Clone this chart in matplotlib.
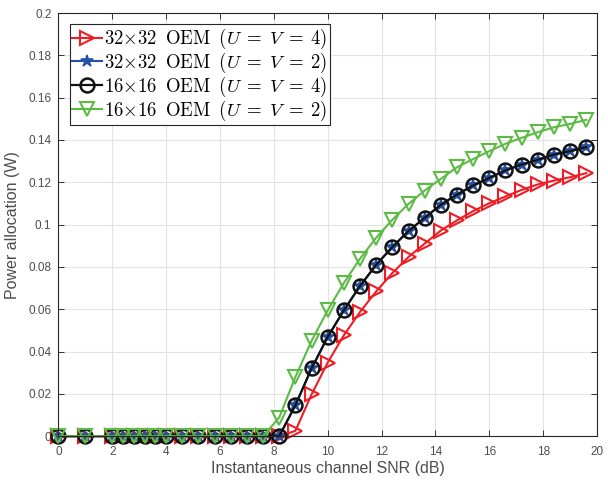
import matplotlib.pyplot as plt

plt.rcParams['mathtext.fontset'] = 'cm'
plt.rcParams['font.family'] = ['Liberation Sans', 'DejaVu Sans']

# SNR grid (dB)
snr = [0, 1, 2, 2.4, 2.8, 3.2, 3.6, 4.0, 4.6, 5.2, 5.8, 6.4, 7.0, 7.6, 8.2,
       8.8, 9.4, 10.0, 10.6, 11.2, 11.8, 12.4, 13.0, 13.6, 14.2, 14.8, 15.4,
       16.0, 16.6, 17.2, 17.8, 18.4, 19.0, 19.6]

zeros = [0.0] * 15

p_32_u4 = zeros + [0.0025, 0.0197, 0.0348, 0.0477, 0.0587, 0.0684, 0.0771, 0.0847,
                   0.0910, 0.0972, 0.1020, 0.1064, 0.1101, 0.1133, 0.1164, 0.1190,
                   0.1208, 0.1224, 0.1243]
p_32_u2 = zeros + [0.0146, 0.0320, 0.0469, 0.0595, 0.0710, 0.0810, 0.0894, 0.0970,
                   0.1032, 0.1094, 0.1142, 0.1185, 0.1221, 0.1256, 0.1284, 0.1306,
                   0.1331, 0.1347, 0.1366]
p_16_u4 = p_32_u2
p_16_u2 = zeros[:-1] + [0.0088, 0.0280, 0.0450, 0.0595, 0.0724, 0.0839, 0.0938, 0.1023,
                        0.1098, 0.1161, 0.1216, 0.1271, 0.1310, 0.1347, 0.1382, 0.1410,
                        0.1437, 0.1460, 0.1476, 0.1495]

labels = [r'$32{\times}32\;\;\mathrm{OEM}\;\;(U\;=\;V\;=\;4)$',
          r'$32{\times}32\;\;\mathrm{OEM}\;\;(U\;=\;V\;=\;2)$',
          r'$16{\times}16\;\;\mathrm{OEM}\;\;(U\;=\;V\;=\;4)$',
          r'$16{\times}16\;\;\mathrm{OEM}\;\;(U\;=\;V\;=\;2)$']

fig = plt.figure(figsize=(6.08, 4.83), dpi=100)
ax = fig.add_axes([0.096, 0.097, 0.886, 0.876])

ax.plot(snr, p_32_u4, color='#ee1c25', marker='>', markersize=10, mfc='none',
        mew=1.5, lw=1.5, label=labels[0], clip_on=False)
ax.plot(snr, p_32_u2, color='#2451a4', marker='*', markersize=9,
        mew=1.2, lw=1.5, label=labels[1], clip_on=False)
ax.plot(snr, p_16_u4, color='#111111', marker='o', markersize=10, mfc='none',
        mew=1.8, lw=1.6, label=labels[2], clip_on=False)
ax.plot(snr, p_16_u2, color='#5cbb44', marker='v', markersize=10, mfc='none',
        mew=1.5, lw=1.5, label=labels[3], clip_on=False)

ax.set_xlim(0, 20)
ax.set_ylim(0, 0.2)
ax.set_xticks(range(0, 21, 2))
ax.set_yticks([0, 0.02, 0.04, 0.06, 0.08, 0.1, 0.12, 0.14, 0.16, 0.18, 0.2])
ax.set_yticklabels(['0', '0.02', '0.04', '0.06', '0.08', '0.1', '0.12', '0.14',
                    '0.16', '0.18', '0.2'])
ax.grid(True, color='#e3e3e3', lw=0.8)
ax.set_axisbelow(True)
ax.tick_params(direction='in', top=True, right=True, labelsize=8.5,
               labelcolor='#4d4d4d', color='#333333', length=4, width=0.7, pad=5)
ax.tick_params(axis='x', pad=7)
for s in ax.spines.values():
    s.set_color('#262626')
    s.set_linewidth(0.8)

ax.set_xlabel('Instantaneous channel SNR (dB)', fontsize=11.5, color='#4d4d4d', labelpad=2)
ax.set_ylabel('Power allocation (W)', fontsize=11.5, color='#4d4d4d', labelpad=6)

leg = ax.legend(loc='upper left', fontsize=13.5, handlelength=1.6, handletextpad=0.1,
                borderpad=0.15, labelspacing=-0.02, borderaxespad=0.6,
                fancybox=False, framealpha=1, edgecolor='#262626')
leg.get_frame().set_linewidth(0.8)

fig.savefig('out.png', dpi=100)
